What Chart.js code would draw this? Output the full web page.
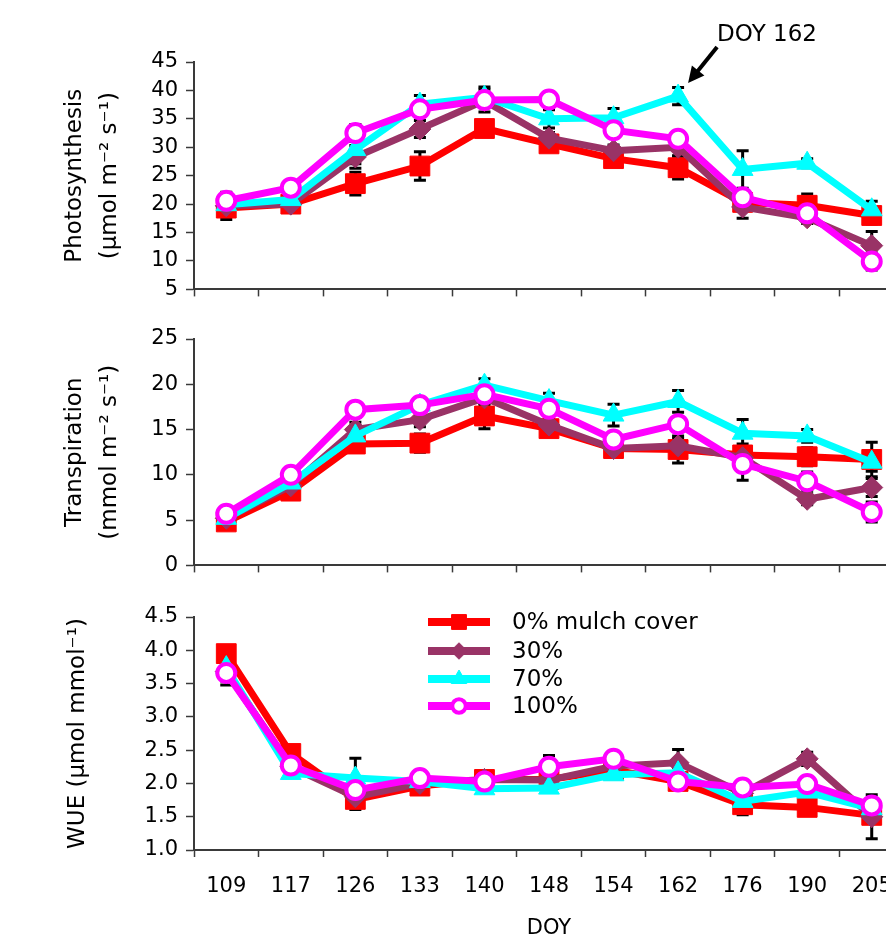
<!DOCTYPE html>
<html>
<head>
<meta charset="utf-8">
<script src="https://cdn.jsdelivr.net/npm/chart.js@4"></script>
<style>
  html, body { margin: 0; padding: 0; background: #fff; overflow: hidden; width: 886px; height: 939px; }
  canvas { position: absolute; left: 0; }
</style>
</head>
<body>
<canvas id="photo" width="919" height="310" style="top:0px"></canvas>
<canvas id="trans" width="919" height="276" style="top:310px"></canvas>
<canvas id="wue" width="919" height="353" style="top:586px"></canvas>
<script>
// ***** Data *****
const doy = ['109', '117', '126', '133', '140', '148', '154', '162', '176', '190', '205'];
const seriesNames = ['0% mulch cover', '30%', '70%', '100%'];

// Photosynthesis (umol m-2 s-1)
const photo0 = [19.3, 20.0, 23.6, 26.7, 33.3, 30.6, 28.0, 26.4, 20.3, 19.8, 18.0];
const photo30 = [19.7, 20.0, 28.3, 33.2, 38.2, 31.6, 29.4, 30.0, 19.5, 17.6, 12.7];
const photo70 = [19.9, 20.8, 29.6, 37.6, 38.8, 35.0, 35.2, 39.0, 26.1, 27.2, 19.0];
const photo100 = [20.6, 22.9, 32.5, 36.7, 38.3, 38.4, 33.0, 31.5, 21.2, 18.4, 9.9];
const photoErr0 = [2.0, 0.6, 2.0, 2.5, 1.2, 1.0, 1.0, 2.0, 1.5, 2.0, 1.5];
const photoErr30 = [1.0, 0.5, 2.0, 1.5, 2.0, 1.0, 1.0, 1.5, 2.0, 1.0, 2.5];
const photoErr70 = [1.0, 0.8, 2.5, 1.5, 1.8, 1.6, 1.6, 1.5, 3.3, 0.8, 1.5];
const photoErr100 = [1.5, 0.6, 1.5, 1.0, 1.0, 0.8, 1.2, 1.0, 1.2, 0.8, 1.5];

// Transpiration (mmol m-2 s-1)
const trans0 = [4.8, 8.2, 13.4, 13.5, 16.5, 15.1, 12.9, 12.8, 12.2, 12.0, 11.7];
const trans30 = [5.2, 8.8, 15.0, 16.1, 18.5, 15.5, 12.9, 13.2, 11.9, 7.3, 8.6];
const trans70 = [5.2, 9.1, 14.3, 17.7, 19.9, 18.2, 16.6, 18.1, 14.6, 14.3, 11.4];
const trans100 = [5.7, 10.0, 17.2, 17.7, 18.9, 17.3, 13.9, 15.6, 11.2, 9.3, 5.9];
const transErr0 = [0.4, 0.5, 0.8, 1.0, 1.4, 0.6, 0.6, 1.5, 1.2, 1.0, 1.9];
const transErr30 = [0.3, 0.5, 0.8, 0.8, 0.8, 0.6, 0.6, 0.8, 1.0, 0.6, 1.0];
const transErr70 = [0.3, 0.5, 0.8, 0.8, 0.7, 0.8, 1.2, 1.2, 1.5, 0.7, 1.0];
const transErr100 = [0.3, 0.5, 0.8, 0.7, 0.7, 0.6, 0.7, 0.8, 1.8, 1.0, 1.1];

// WUE (umol mmol-1)
const wue0 = [3.95, 2.45, 1.76, 1.96, 2.06, 2.06, 2.20, 2.03, 1.68, 1.64, 1.52];
const wue30 = [3.68, 2.25, 1.80, 2.00, 2.06, 2.05, 2.26, 2.31, 1.85, 2.37, 1.50];
const wue70 = [3.74, 2.15, 2.08, 2.03, 1.92, 1.93, 2.13, 2.16, 1.73, 1.87, 1.62];
const wue100 = [3.66, 2.27, 1.90, 2.08, 2.03, 2.25, 2.37, 2.03, 1.94, 1.99, 1.67];
const wueErr0 = [0.10, 0.08, 0.15, 0.05, 0.08, 0.08, 0.05, 0.05, 0.15, 0.05, 0.10];
const wueErr30 = [0.20, 0.05, 0.10, 0.05, 0.10, 0.12, 0.05, 0.20, 0.10, 0.10, 0.33];
const wueErr70 = [0.20, 0.05, 0.30, 0.05, 0.05, 0.05, 0.05, 0.08, 0.10, 0.05, 0.10];
const wueErr100 = [0.10, 0.05, 0.10, 0.05, 0.05, 0.17, 0.05, 0.05, 0.10, 0.10, 0.10];

const photoTicks = [5, 10, 15, 20, 25, 30, 35, 40, 45];
const transTicks = [0, 5, 10, 15, 20, 25];
const wueTicks = [1.0, 1.5, 2.0, 2.5, 3.0, 3.5, 4.0, 4.5];

// ***** Styles *****
const fontFamily = '"DejaVu Sans", Verdana, sans-serif';
const axisColor = '#3a3a3a';
const lineColors = ['#ff0000', '#993366', '#00ffff', '#ff00ff'];
const pointFills = ['#ff0000', '#993366', '#00ffff', '#ffffff'];
const pointStyles = ['rect', 'rectRot', 'triangle', 'circle'];
const pointRadii = [14, 11, 12, 9];
const pointBorders = [1, 1, 1, 4];

// draw black error bars under the lines
const errorBars = {
  id: 'errorBars',
  beforeDatasetsDraw(chart) {
    const { ctx } = chart;
    const yScale = chart.scales.y;
    ctx.save();
    ctx.strokeStyle = '#000';
    ctx.lineWidth = 3;
    chart.data.datasets.forEach((ds, i) => {
      const meta = chart.getDatasetMeta(i);
      meta.data.forEach((pt, j) => {
        const top = yScale.getPixelForValue(ds.data[j] + ds.errors[j]);
        const bot = yScale.getPixelForValue(ds.data[j] - ds.errors[j]);
        ctx.beginPath();
        ctx.moveTo(pt.x, top);
        ctx.lineTo(pt.x, bot);
        ctx.moveTo(pt.x - 6, top);
        ctx.lineTo(pt.x + 6, top);
        ctx.moveTo(pt.x - 6, bot);
        ctx.lineTo(pt.x + 6, bot);
        ctx.stroke();
      });
    });
    ctx.restore();
  }
};

const buildDatasets = (values, errors) => values.map((v, i) => ({
  label: seriesNames[i],
  data: v,
  errors: errors[i],
  borderColor: lineColors[i],
  backgroundColor: pointFills[i],
  pointBorderColor: lineColors[i],
  pointBackgroundColor: pointFills[i],
  borderWidth: 7,
  tension: 0,
  pointStyle: pointStyles[i],
  pointRadius: pointRadii[i],
  pointBorderWidth: pointBorders[i],
  order: 3 - i
}));

const makeChart = (id, opts) => new Chart(document.getElementById(id), {
  type: 'line',
  data: { labels: doy, datasets: buildDatasets(opts.values, opts.errors) },
  options: {
    responsive: false,
    devicePixelRatio: 1,
    animation: false,
    layout: { padding: { top: opts.padTop, right: 0, bottom: 0, left: 0 } },
    plugins: { legend: { display: false }, tooltip: { enabled: false } },
    scales: {
      x: {
        type: 'category',
        offset: true,
        grid: { offset: true, drawOnChartArea: false, drawTicks: true, tickLength: 7, tickColor: axisColor, tickWidth: 1.5 },
        border: { color: axisColor, width: 2 },
        ticks: {
          display: opts.showX,
          color: '#000',
          font: { family: fontFamily, size: 21 },
          padding: 17,
          maxRotation: 0,
          autoSkip: false
        },
        title: {
          display: opts.showX,
          text: 'DOY',
          color: '#000',
          font: { family: fontFamily, size: 21, lineHeight: 1.0 },
          padding: { top: 0, bottom: 0 }
        },
        afterFit: (s) => { s.height = opts.xHeight; }
      },
      y: {
        min: opts.ticks[0],
        max: opts.ticks[opts.ticks.length - 1],
        afterBuildTicks: (s) => { s.ticks = opts.ticks.map(v => ({ value: v })); },
        grid: { drawOnChartArea: false, drawTicks: true, tickLength: 8, tickColor: axisColor, tickWidth: 1.5 },
        border: { color: axisColor, width: 2 },
        ticks: {
          color: '#000',
          font: { family: fontFamily, size: 21 },
          padding: 8,
          callback: opts.fmt
        },
        title: {
          display: true,
          text: opts.title,
          color: '#000',
          font: { family: fontFamily, size: 23, lineHeight: 1.55 },
          padding: { top: opts.titlePad, bottom: 0 }
        },
        afterFit: (s) => { s.width = 194; }
      }
    }
  },
  plugins: [errorBars].concat(opts.extra || [])
});

// arrow + label pointing at DOY 162
const doyNote = {
  id: 'doyNote',
  afterDraw(chart) {
    const { ctx } = chart;
    const tipX = chart.scales.x.getPixelForValue(7) + 10;
    const tipY = chart.scales.y.getPixelForValue(41.3);
    const startX = tipX + 29;
    const startY = tipY - 36;
    ctx.save();
    ctx.strokeStyle = '#000';
    ctx.fillStyle = '#000';
    ctx.lineWidth = 4;
    const ang = Math.atan2(tipY - startY, tipX - startX);
    ctx.beginPath();
    ctx.moveTo(startX, startY);
    ctx.lineTo(tipX - 10 * Math.cos(ang), tipY - 10 * Math.sin(ang));
    ctx.stroke();
    ctx.beginPath();
    ctx.moveTo(tipX, tipY);
    ctx.lineTo(tipX - 16 * Math.cos(ang) + 8 * Math.sin(ang), tipY - 16 * Math.sin(ang) - 8 * Math.cos(ang));
    ctx.lineTo(tipX - 16 * Math.cos(ang) - 8 * Math.sin(ang), tipY - 16 * Math.sin(ang) + 8 * Math.cos(ang));
    ctx.closePath();
    ctx.fill();
    ctx.font = '23px ' + fontFamily;
    ctx.textBaseline = 'middle';
    ctx.textAlign = 'left';
    ctx.fillText('DOY 162', startX, startY - 12);
    ctx.restore();
  }
};

// legend drawn inside the WUE panel
const mulchLegend = {
  id: 'mulchLegend',
  afterDraw(chart) {
    const { ctx } = chart;
    const rowY = [36, 65, 93, 120];
    ctx.save();
    seriesNames.forEach((name, i) => {
      const y = rowY[i];
      ctx.strokeStyle = lineColors[i];
      ctx.lineWidth = 8;
      ctx.beginPath();
      ctx.moveTo(428, y);
      ctx.lineTo(490, y);
      ctx.stroke();
      ctx.fillStyle = pointFills[i];
      ctx.lineWidth = pointBorders[i];
      Chart.helpers.drawPoint(ctx, { pointStyle: pointStyles[i], radius: pointRadii[i] * 0.75, rotation: 0, borderWidth: pointBorders[i] }, 459, y);
      ctx.fillStyle = '#000';
      ctx.font = '23px ' + fontFamily;
      ctx.textBaseline = 'middle';
      ctx.textAlign = 'left';
      ctx.fillText(name, 512, y + 1);
    });
    ctx.restore();
  }
};

// ***** Charts *****
makeChart('photo', {
  values: [photo0, photo30, photo70, photo100],
  errors: [photoErr0, photoErr30, photoErr70, photoErr100],
  ticks: photoTicks,
  title: ['Photosynthesis', '(\u00b5mol m\u207b\u00b2 s\u207b\u00b9)'],
  titlePad: 57,
  padTop: 62,
  xHeight: 15,
  showX: false,
  fmt: (v) => v,
  extra: [doyNote]
});

makeChart('trans', {
  values: [trans0, trans30, trans70, trans100],
  errors: [transErr0, transErr30, transErr70, transErr100],
  ticks: transTicks,
  title: ['Transpiration', '(mmol m\u207b\u00b2 s\u207b\u00b9)'],
  titlePad: 57,
  padTop: 29,
  xHeight: 15,
  showX: false,
  fmt: (v) => v
});

makeChart('wue', {
  values: [wue0, wue30, wue70, wue100],
  errors: [wueErr0, wueErr30, wueErr70, wueErr100],
  ticks: wueTicks,
  title: 'WUE (\u00b5mol mmol\u207b\u00b9)',
  titlePad: 60,
  padTop: 31,
  xHeight: 89,
  showX: true,
  fmt: (v) => Number(v).toFixed(1),
  extra: [mulchLegend]
});
</script>
</body>
</html>
